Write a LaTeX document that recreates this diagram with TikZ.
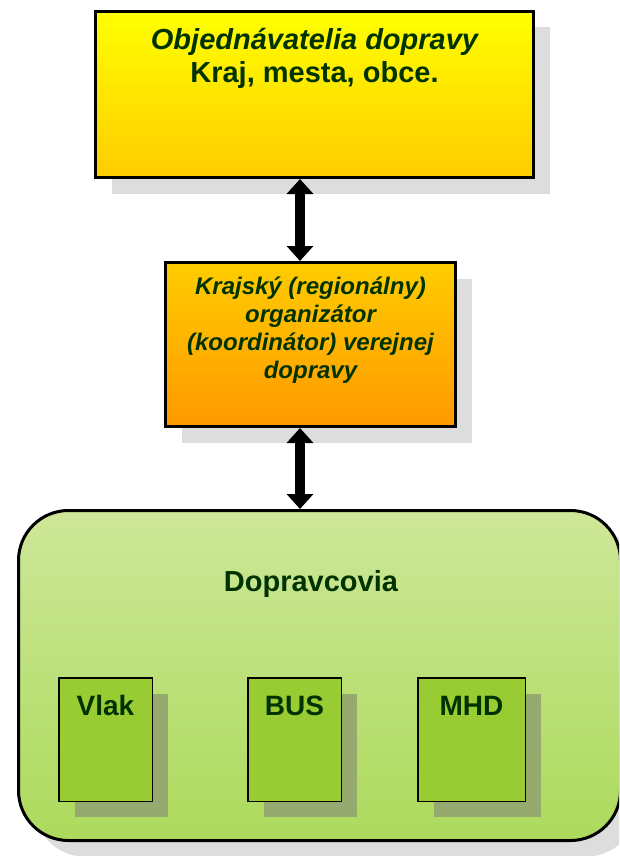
\documentclass[tikz,border=0pt]{standalone}
\usepackage{fontspec}
\setmainfont{Liberation Sans}
\usetikzlibrary{arrows.meta,shadows}
\definecolor{txtgreen}{RGB}{0,51,0}
\definecolor{shgray}{RGB}{221,221,221}
\definecolor{shgreen}{RGB}{150,170,112}
\definecolor{yelA}{RGB}{255,255,0}
\definecolor{yelB}{RGB}{255,204,0}
\definecolor{orB}{RGB}{255,153,0}
\definecolor{grA}{RGB}{205,231,152}
\definecolor{grB}{RGB}{172,218,92}
\definecolor{grBox}{RGB}{153,204,51}
\tikzset{
  bigbox/.style={draw=black, line width=3pt, inner sep=0pt,
    drop shadow={shadow xshift=16pt, shadow yshift=-16pt, fill=shgray, opacity=1}},
  smallbox/.style={draw=black, line width=1.5pt, inner sep=0pt, fill=grBox,
    minimum height=123.5pt,
    drop shadow={shadow xshift=16pt, shadow yshift=-16pt, fill=shgreen, opacity=1}},
  lbl/.style={text=txtgreen, font=\fontsize{28}{32}\selectfont\bfseries, inner sep=0pt, anchor=base},
  dblarrow/.style={line width=10pt, {Triangle[width=26pt,length=15pt]}-{Triangle[width=26pt,length=15pt]}}
}
\begin{document}
\begin{tikzpicture}[x=1pt,y=-1pt]
\useasboundingbox (0,0) rectangle (619,856);
\begin{scope}
\clip (0,0) rectangle (619,856);
% big rounded box
\node[bigbox, rounded corners=50pt, top color=grA, bottom color=grB,
      minimum width=602pt, minimum height=330pt] (big) at (319.5,675.5) {};
\end{scope}
\node[lbl, font=\fontsize{29}{33}\selectfont\bfseries] (dtxt) at (311,591) {Dopravcovia};

% small boxes
\node[smallbox, minimum width=93.5pt] (vlak) at (105.5,739.5) {};
\node[smallbox, minimum width=93.5pt] (bus) at (294.5,739.5) {};
\node[smallbox, minimum width=107.5pt] (mhd) at (471.5,739.5) {};
\node[lbl] (vlaktxt) at (105.5,715) {Vlak};
\node[lbl] (bustxt) at (294.5,715) {BUS};
\node[lbl] (mhdtxt) at (471.5,715) {MHD};

% top box
\node[bigbox, top color=yelA, bottom color=yelB,
      minimum width=438pt, minimum height=166pt] (top) at (314.5,94.5) {};
\node[text=txtgreen, inner sep=0pt, align=center, anchor=base,
      font=\fontsize{29}{33}\selectfont\bfseries] (toptxt) at (314.5,83)
  {\itshape Objednávatelia dopravy\\Kraj, mesta, obce.};

% middle box
\node[bigbox, top color=yelB, bottom color=orB,
      minimum width=290pt, minimum height=164pt] (mid) at (310.5,344.5) {};
\node[text=txtgreen, inner sep=0pt, align=center, anchor=base,
      font=\fontsize{24}{27.7}\selectfont\bfseries\itshape] (midtxt) at (310.5,378)
  {Krajský (regionálny)\\organizátor\\(koordinátor) verejnej\\dopravy};

% arrows
\draw[dblarrow] ([xshift=-14.5pt]top.south) -- ([xshift=-14.5pt]top.south |- mid.north);
\draw[dblarrow] ([xshift=-10.5pt]mid.south) -- ([xshift=-10.5pt]mid.south |- big.north);
\end{tikzpicture}
\end{document}
